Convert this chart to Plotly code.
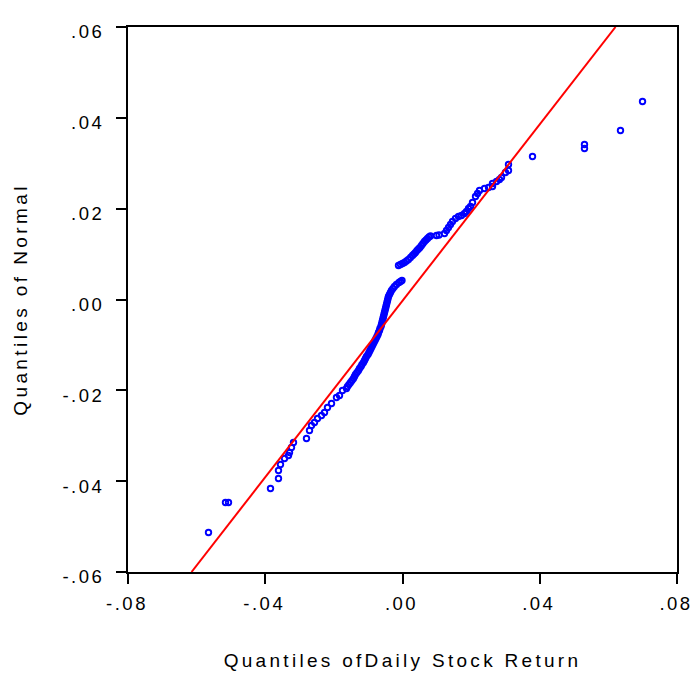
import plotly.graph_objects as go

# Empirical quantiles of daily stock return (x) vs. quantiles of normal (y)
return_quantiles = [
    # lower tail
    -0.05654, -0.05159, -0.05071, -0.03847, -0.03614, -0.03614, -0.03556, -0.03439,
    -0.03322, -0.03293, -0.03235, -0.03177,
    # lower body
    -0.02798, -0.02710, -0.02652, -0.02565, -0.02477, -0.02361, -0.02273, -0.02186,
    -0.02069, -0.01924, -0.01836, -0.01749,
    # dense centre
    -0.01632, -0.01603, -0.01559, -0.01515, -0.01472, -0.01428, -0.01399, -0.01370,
    -0.01326, -0.01282, -0.01253, -0.01209, -0.01180, -0.01137, -0.01107, -0.01078,
    -0.01049, -0.01005, -0.00976, -0.00947, -0.00918, -0.00889, -0.00860, -0.00831,
    -0.00801, -0.00772, -0.00743, -0.00714, -0.00699, -0.00670, -0.00656, -0.00627,
    -0.00612, -0.00597, -0.00583, -0.00568, -0.00554, -0.00539, -0.00525, -0.00510,
    -0.00495, -0.00481, -0.00466, -0.00452, -0.00437, -0.00423, -0.00408, -0.00379,
    -0.00350, -0.00321, -0.00277, -0.00233, -0.00175, -0.00102, -0.00058, -0.00015,
    # upper cluster
    -0.00117, -0.00058, 0.00000, 0.00058, 0.00117, 0.00175, 0.00233, 0.00291,
    0.00335, 0.00379, 0.00423, 0.00466, 0.00510, 0.00554, 0.00597, 0.00641,
    0.00685, 0.00729, 0.00772, 0.00816, 0.00991, 0.01064,
    # upper body
    0.01224, 0.01282, 0.01341, 0.01399, 0.01457, 0.01545,
    0.01632, 0.01719, 0.01807, 0.01865, 0.01924, 0.01982, 0.02040, 0.02128,
    0.02186, 0.02244, 0.02390, 0.02506, 0.02623, 0.02623, 0.02740, 0.02827,
    0.02885, 0.03002, 0.03089, 0.03089,
    # upper tail
    0.03789, 0.05304, 0.05304, 0.06353, 0.06995,
]
normal_quantiles = [
    # lower tail
    -0.05130, -0.04470, -0.04470, -0.04161, -0.03941, -0.03765, -0.03633, -0.03501,
    -0.03435, -0.03369, -0.03259, -0.03149,
    # lower body
    -0.03061, -0.02884, -0.02774, -0.02708, -0.02620, -0.02554, -0.02488, -0.02378,
    -0.02290, -0.02158, -0.02114, -0.02004,
    # dense centre
    -0.01960, -0.01916, -0.01872, -0.01827, -0.01783, -0.01739, -0.01695, -0.01651,
    -0.01607, -0.01563, -0.01519, -0.01475, -0.01431, -0.01387, -0.01343, -0.01299,
    -0.01255, -0.01211, -0.01167, -0.01123, -0.01079, -0.01035, -0.00991, -0.00947,
    -0.00903, -0.00859, -0.00815, -0.00771, -0.00727, -0.00683, -0.00639, -0.00594,
    -0.00550, -0.00506, -0.00462, -0.00418, -0.00374, -0.00330, -0.00286, -0.00242,
    -0.00198, -0.00154, -0.00110, -0.00066, -0.00022, 0.00022, 0.00066, 0.00110,
    0.00154, 0.00198, 0.00242, 0.00286, 0.00330, 0.00374, 0.00396, 0.00418,
    # upper cluster
    0.00749, 0.00771, 0.00793, 0.00815, 0.00848, 0.00881, 0.00925, 0.00969,
    0.01002, 0.01035, 0.01079, 0.01112, 0.01145, 0.01189, 0.01233, 0.01277,
    0.01310, 0.01343, 0.01376, 0.01398, 0.01409, 0.01420,
    # upper body
    0.01453, 0.01519, 0.01585, 0.01651, 0.01717, 0.01783,
    0.01827, 0.01850, 0.01894, 0.01938, 0.02004, 0.02048, 0.02136, 0.02268,
    0.02334, 0.02400, 0.02444, 0.02466, 0.02488, 0.02554, 0.02598, 0.02642,
    0.02686, 0.02796, 0.02840, 0.02972,
    # upper tail
    0.03149, 0.03325, 0.03413, 0.03721, 0.04360,
]

# Reference line endpoints
ref_line_x = [-0.06149, 0.06208]
ref_line_y = [-0.06, 0.06]

x_tick_vals = [-0.08, -0.04, 0.0, 0.04, 0.08]
x_tick_text = ["-.08", "-.04", ".00", ".04", ".08"]
y_tick_vals = [-0.06, -0.04, -0.02, 0.0, 0.02, 0.04, 0.06]
y_tick_text = ["-.06", "-.04", "-.02", ".00", ".02", ".04", ".06"]

x_title = "Quantiles ofDaily Stock Return"
y_title = "Quantiles of Normal"


def spaced(text, px):
    return '<span style="letter-spacing:%spx">%s</span>' % (px, text)


fig = go.Figure()
fig.add_trace(go.Scatter(
    x=return_quantiles, y=normal_quantiles, mode="markers",
    marker=dict(symbol="circle-open", size=5.5, color="#0000FF",
                line=dict(width=1.9, color="#0000FF")),
    showlegend=False,
))
fig.add_trace(go.Scatter(
    x=ref_line_x, y=ref_line_y, mode="lines",
    line=dict(color="#FF0000", width=2), showlegend=False,
))

font_family = "Liberation Sans, Arial, sans-serif"
axis_common = dict(
    showgrid=False, zeroline=False, showline=True, linecolor="black",
    linewidth=2, mirror=True, ticks="outside", ticklen=10, tickwidth=2,
    tickcolor="black", tickfont=dict(size=18.5),
)
fig.update_layout(
    width=693, height=674,
    margin=dict(l=128, r=16, t=27, b=102, autoexpand=False),
    paper_bgcolor="white", plot_bgcolor="white",
    font=dict(family=font_family, size=18.5, color="black"),
    xaxis=dict(
        range=[-0.08, 0.08], tickvals=x_tick_vals,
        ticktext=[spaced(t, 2.5) for t in x_tick_text],
        ticklabelstandoff=4, ticklabelshift=-1,
        title=dict(text=spaced(x_title, 3.3), font=dict(size=19), standoff=40),
        **axis_common,
    ),
    yaxis=dict(
        range=[-0.06, 0.06], tickvals=y_tick_vals,
        ticktext=[spaced(t, 2.5) for t in y_tick_text],
        ticklabelstandoff=8, ticklabelshift=5,
        title=dict(text=spaced(y_title, 3.4), font=dict(size=19), standoff=30),
        **axis_common,
    ),
)

fig.write_html("out.html", config={"displayModeBar": False},
               post_script="document.body.style.margin='0';")
